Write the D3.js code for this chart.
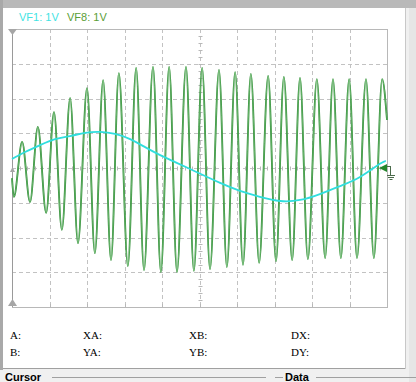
<!DOCTYPE html>
<html>
<head>
<meta charset="utf-8">
<script src="https://cdn.jsdelivr.net/npm/d3@7"></script>
<style>
  body { margin: 0; background: #f0f0f0; }
  svg { display: block; }
</style>
</head>
<body>
<div id="scope"></div>
<script>
// time in divisions (0..10), values in volts (1 V/div)
const vf1Time = [0, 0.35, 0.75, 1.15, 1.55, 1.95, 2.35, 2.75, 3.15, 3.55, 3.95, 4.35, 4.75, 5.15, 5.55, 6.08, 6.61, 7.15, 7.68, 8.21, 8.75, 9.28, 9.81, 9.97];
const vf1Volt = [0.26, 0.46, 0.66, 0.83, 0.92, 1.01, 1.04, 0.98, 0.83, 0.60, 0.37, 0.17, -0.03, -0.23, -0.43, -0.66, -0.83, -0.95, -0.92, -0.75, -0.52, -0.26, 0.12, 0.20];

// peaks and troughs of VF8
const vf8Time = [0, 0.05, 0.27, 0.48, 0.69, 0.91, 1.12, 1.33, 1.55, 1.76, 2.00, 2.21, 2.43, 2.64, 2.85, 3.09, 3.31, 3.52, 3.76, 3.97, 4.19, 4.40, 4.64, 4.85, 5.07, 5.28, 5.52, 5.73, 5.95, 6.16, 6.37, 6.59, 6.83, 7.04, 7.25, 7.47, 7.68, 7.89, 8.13, 8.35, 8.56, 8.77, 8.99, 9.20, 9.44, 9.65, 9.87, 10.00];
const vf8Volt = [-0.29, -0.83, 0.75, -0.98, 1.18, -1.29, 1.61, -1.78, 2.01, -2.16, 2.30, -2.45, 2.53, -2.65, 2.73, -2.82, 2.88, -2.94, 2.91, -2.99, 2.91, -2.99, 2.91, -2.96, 2.88, -2.91, 2.82, -2.85, 2.76, -2.79, 2.71, -2.73, 2.65, -2.68, 2.62, -2.65, 2.59, -2.62, 2.56, -2.59, 2.56, -2.59, 2.56, -2.59, 2.56, -2.59, 2.56, 1.38];

const legend = [
  { label: "VF1: 1V", color: "#3fe3e3" },
  { label: "VF8: 1V", color: "#5a9e36" }
];
const readoutCols = [["A:", "B:"], ["XA:", "YA:"], ["XB:", "YB:"], ["DX:", "DY:"]];
const colX = [10, 83, 189, 291];

const width = 416;
const height = 382;

const svg = d3.select("#scope")
  .append("svg")
  .attr("width", width)
  .attr("height", height);

// window frame
svg.append("rect").attr("width", width).attr("height", height).attr("fill", "#f0f0f0");
svg.append("rect").attr("x", 3).attr("y", 8).attr("width", 402).attr("height", 360).attr("fill", "#fff");
svg.append("rect").attr("width", width).attr("height", 8).attr("fill", "#b9b9b9");
svg.append("rect").attr("width", 3).attr("height", 370).attr("fill", "#a9a9a9");
svg.append("line").attr("x1", 3).attr("x2", 405).attr("y1", 368.5).attr("y2", 368.5).attr("stroke", "#a0a0a0");
svg.append("line").attr("x1", 405.5).attr("x2", 405.5).attr("y1", 8).attr("y2", 369).attr("stroke", "#c8c8c8");
svg.append("rect").attr("x", 409).attr("y", 8).attr("width", 7).attr("height", 374).attr("fill", "#e6e6e6");

const x = d3.scaleLinear().domain([0, 10]).range([12, 387]);
const y = d3.scaleLinear().domain([-4, 4]).range([307, 29]);

// grid
const grid = svg.append("g").attr("stroke", "#c2c2c2").attr("stroke-dasharray", "4,3");
grid.selectAll(".gx")
  .data(d3.range(1, 10))
  .enter()
  .append("line")
  .attr("x1", d => Math.round(x(d)) + 0.5)
  .attr("x2", d => Math.round(x(d)) + 0.5)
  .attr("y1", y(4))
  .attr("y2", y(-4));
grid.selectAll(".gy")
  .data(d3.range(-3, 4))
  .enter()
  .append("line")
  .attr("x1", x(0))
  .attr("x2", x(10))
  .attr("y1", d => Math.round(y(d)) + 0.5)
  .attr("y2", d => Math.round(y(d)) + 0.5);

// minor ticks on the centre lines
const minor = svg.append("g").attr("stroke", "#b8b8b8");
const cx = Math.round(x(5)) + 0.5;
const cy = Math.round(y(0)) + 0.5;
minor.selectAll(".my")
  .data(d3.range(-4, 4.01, 0.2))
  .enter()
  .append("line")
  .attr("x1", cx - 2).attr("x2", cx + 2)
  .attr("y1", d => Math.round(y(d)) + 0.5)
  .attr("y2", d => Math.round(y(d)) + 0.5);
minor.selectAll(".mx")
  .data(d3.range(0, 10.01, 0.2))
  .enter()
  .append("line")
  .attr("y1", cy - 2).attr("y2", cy + 2)
  .attr("x1", d => Math.round(x(d)) + 0.5)
  .attr("x2", d => Math.round(x(d)) + 0.5);
// ticks on bottom border
minor.selectAll(".bx")
  .data(d3.range(1, 10))
  .enter()
  .append("line")
  .attr("y1", y(-4) - 3).attr("y2", y(-4))
  .attr("x1", d => Math.round(x(d)) + 0.5)
  .attr("x2", d => Math.round(x(d)) + 0.5);

// plot border
svg.append("rect")
  .attr("x", x(0) + 0.5).attr("y", y(4) + 0.5)
  .attr("width", x(10) - x(0)).attr("height", y(-4) - y(4))
  .attr("fill", "none").attr("stroke", "#b8b8b8");
svg.append("line")
  .attr("x1", x(0) + 0.5).attr("x2", x(0) + 0.5)
  .attr("y1", y(4)).attr("y2", y(-4))
  .attr("stroke", "#9a9a9a");

// traces
const vf8 = vf8Time.map((t, i) => [t, vf8Volt[i]]);
const vf1 = vf1Time.map((t, i) => [t, vf1Volt[i]]);

const line = d3.line()
  .x(d => x(d[0]))
  .y(d => y(d[1]))
  .curve(d3.curveMonotoneX);

svg.append("path")
  .datum(vf8)
  .attr("d", line)
  .attr("fill", "none")
  .attr("stroke", "#23862a")
  .attr("stroke-width", 1.8);
svg.append("path")
  .datum(vf8)
  .attr("d", line)
  .attr("fill", "none")
  .attr("stroke", "#a6dca6")
  .attr("stroke-width", 0.5);

svg.append("path")
  .datum(vf1)
  .attr("d", line.curve(d3.curveNatural))
  .attr("fill", "none")
  .attr("stroke", "#30dede")
  .attr("stroke-width", 1.8);

// cursor markers
const grey = "#a6a6a6";
svg.append("path").attr("d", d3.line()([[8, 29], [17, 29], [12.5, 35]])).attr("fill", grey);
svg.append("path").attr("d", d3.line()([[8, 306], [17, 306], [12.5, 299]])).attr("fill", grey);
svg.append("path").attr("d", d3.line()([[10, 172], [15, 172], [12.5, 167]])).attr("fill", grey);

// channel marker with ground
const gy = y(0);
svg.append("path").attr("d", d3.line()([[387, gy - 4], [387, gy + 4], [379, gy]])).attr("fill", "#23862a");
const gnd = svg.append("g").attr("stroke", "#4b6b4b");
gnd.append("line").attr("x1", 387).attr("x2", 390.5).attr("y1", gy - 1.5).attr("y2", gy - 1.5);
gnd.append("line").attr("x1", 390.5).attr("x2", 390.5).attr("y1", gy - 2).attr("y2", gy + 7);
gnd.append("line").attr("x1", 387).attr("x2", 395).attr("y1", gy + 7.5).attr("y2", gy + 7.5);
gnd.append("line").attr("x1", 388).attr("x2", 394).attr("y1", gy + 9.5).attr("y2", gy + 9.5);
gnd.append("line").attr("x1", 389.5).attr("x2", 392.5).attr("y1", gy + 11.5).attr("y2", gy + 11.5);

// legend
svg.selectAll(".legend")
  .data(legend)
  .enter()
  .append("text")
  .attr("x", (d, i) => 19 + i * 48)
  .attr("y", 21)
  .text(d => d.label)
  .style("font-family", "Liberation Sans, Arial, sans-serif")
  .style("font-size", "11px")
  .style("fill", d => d.color);

// cursor readouts
readoutCols.forEach((col, i) => {
  col.forEach((label, j) => {
    svg.append("text")
      .attr("x", colX[i])
      .attr("y", 339 + j * 17)
      .text(label)
      .style("font-family", "Liberation Serif, Times New Roman, serif")
      .style("font-size", "11px")
      .style("fill", "#000");
  });
});

// group boxes below
const box = svg.append("g").attr("stroke", "#a0a0a0");
box.append("line").attr("x1", 52).attr("x2", 266).attr("y1", 377.5).attr("y2", 377.5);
box.append("line").attr("x1", 275).attr("x2", 283).attr("y1", 377.5).attr("y2", 377.5);
box.append("line").attr("x1", 316).attr("x2", 416).attr("y1", 377.5).attr("y2", 377.5);
svg.append("text").attr("x", 5).attr("y", 381).text("Cursor")
  .style("font-family", "Liberation Sans, Arial, sans-serif").style("font-size", "11px").style("font-weight", "bold");
svg.append("text").attr("x", 285).attr("y", 381).text("Data")
  .style("font-family", "Liberation Sans, Arial, sans-serif").style("font-size", "11px").style("font-weight", "bold");
</script>
</body>
</html>
